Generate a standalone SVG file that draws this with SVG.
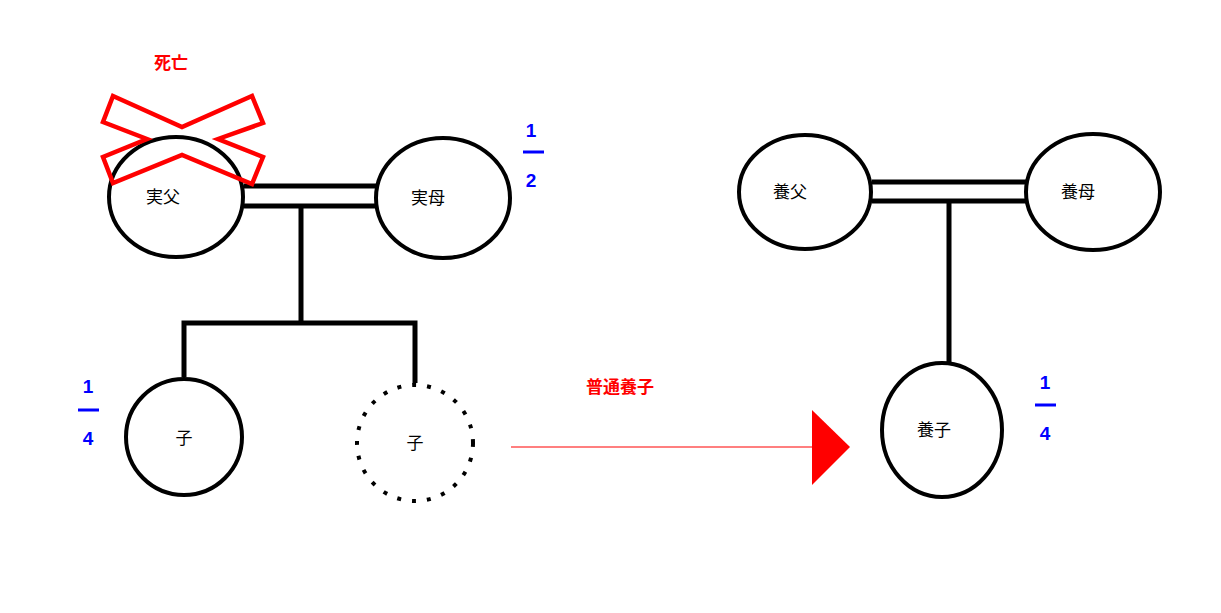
<svg xmlns="http://www.w3.org/2000/svg" width="1221" height="613" viewBox="0 0 1221 613">
<style>
.n{fill:#fff;stroke:#000;stroke-width:4}
.t{font-family:"Noto Sans CJK JP",sans-serif;font-size:17px;text-anchor:middle;fill:#000}
.r{font-family:"Noto Sans CJK JP",sans-serif;font-size:17px;font-weight:bold;text-anchor:middle;fill:#f00}
.b{font-family:"Liberation Sans",sans-serif;font-size:19px;font-weight:bold;text-anchor:middle;fill:#00f}
.l{stroke:#000;stroke-width:5;fill:none}
</style>
<rect width="1221" height="613" fill="#fff"/>
<g id="connectors">
<line class="l" x1="244" y1="186" x2="377" y2="186"/>
<line class="l" x1="244" y1="206" x2="377" y2="206"/>
<polyline class="l" points="301,206 301,323"/>
<polyline class="l" points="184,377 184,323 415,323 415,383"/>
<line class="l" x1="872" y1="182" x2="1026" y2="182"/>
<line class="l" x1="872" y1="201" x2="1026" y2="201"/>
<line class="l" x1="949" y1="201" x2="949" y2="362"/>
<line x1="511" y1="447" x2="814" y2="447" stroke="#f00" stroke-width="1.2"/>
<polygon points="812,410 850,447 812,485" fill="#f00"/>
</g>
<g id="father"><ellipse class="n" cx="176" cy="197" rx="67" ry="60"/><text class="t" x="163" y="203">実父</text></g>
<g id="death"><polygon points="113,96 182,127 252,96 263,123 218,139 263,157 252,184 182,155 113,183 103,157 147,139 103,122" fill="none" stroke="#f00" stroke-width="4.5"/><text class="r" x="171" y="69">死亡</text></g>
<g id="mother"><ellipse class="n" cx="443" cy="198" rx="67" ry="60"/><text class="t" x="428" y="204">実母</text></g>
<g id="child"><circle class="n" cx="184" cy="437" r="58"/><text class="t" x="184" y="444">子</text></g>
<g id="child2"><circle cx="415" cy="443" r="58" fill="#fff" stroke="#000" stroke-width="4" stroke-dasharray="4 11"/><text class="t" x="415" y="449">子</text></g>
<g id="adfather"><ellipse class="n" cx="805" cy="192" rx="66" ry="57"/><text class="t" x="790" y="198">養父</text></g>
<g id="admother"><ellipse class="n" cx="1093" cy="192" rx="67" ry="58"/><text class="t" x="1078" y="198">養母</text></g>
<g id="adchild"><ellipse class="n" cx="942" cy="430" rx="60" ry="67"/><text class="t" x="934" y="436">養子</text></g>
<text class="r" x="620" y="393">普通養子</text>
<g id="frac1"><text class="b" x="531" y="137">1</text><line x1="523" y1="152" x2="544" y2="152" stroke="#00f" stroke-width="3"/><text class="b" x="531" y="187">2</text></g>
<g id="frac2"><text class="b" x="88" y="393">1</text><line x1="78" y1="410" x2="99" y2="410" stroke="#00f" stroke-width="3"/><text class="b" x="88" y="445">4</text></g>
<g id="frac3"><text class="b" x="1045" y="389">1</text><line x1="1035" y1="405" x2="1056" y2="405" stroke="#00f" stroke-width="3"/><text class="b" x="1045" y="440">4</text></g>
</svg>
